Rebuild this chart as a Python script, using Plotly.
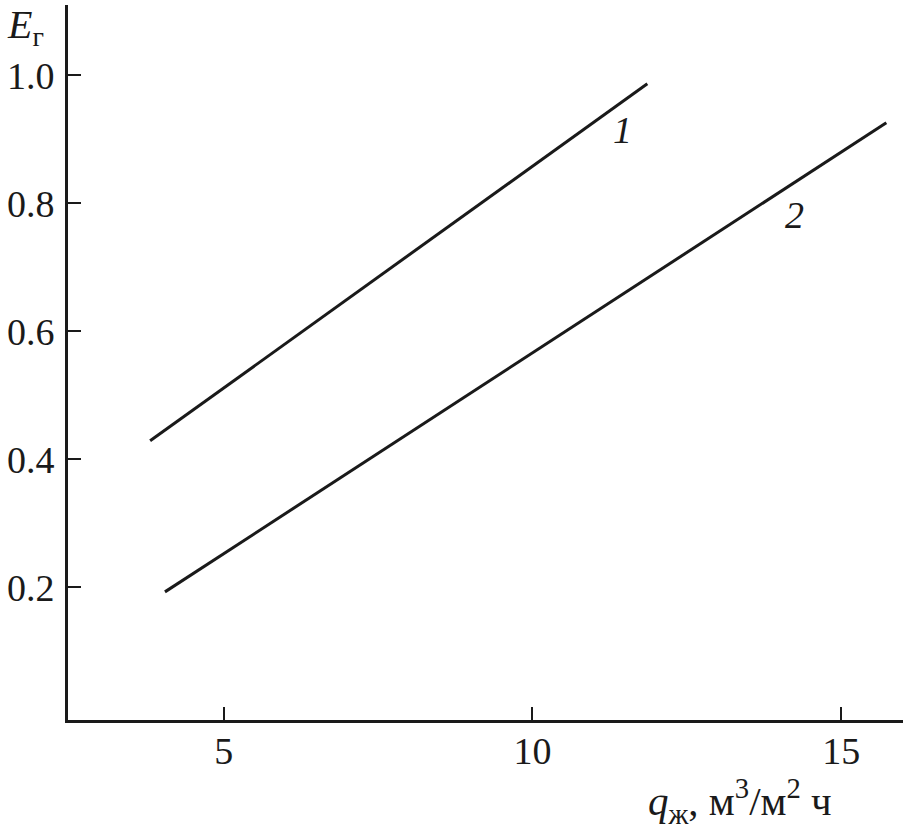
import plotly.graph_objects as go

# Data
series_names = ["1", "2"]
line1_x = [3.81, 11.86]
line1_y = [0.429, 0.987]
line2_x = [4.05, 15.73]
line2_y = [0.193, 0.926]
label_pos = {"1": (11.46, 0.915), "2": (14.24, 0.782)}

x_ticks = [5, 10, 15]
y_ticks = [0.2, 0.4, 0.6, 0.8, 1.0]
y_tick_text = ["0.2", "0.4", "0.6", "0.8", "1.0"]

FONT = "Liberation Serif"
fig = go.Figure()
for xs, ys, name in [(line1_x, line1_y, "1"), (line2_x, line2_y, "2")]:
    fig.add_trace(go.Scatter(x=xs, y=ys, mode="lines", name=name,
                             line=dict(color="#1a1a1a", width=3), showlegend=False))

for name in series_names:
    lx, ly = label_pos[name]
    fig.add_annotation(x=lx, y=ly, text=f"<i>{name}</i>", showarrow=False,
                       font=dict(family=FONT, size=38, color="#1a1a1a"))

fig.add_annotation(xref="paper", yref="paper", x=-0.0754, y=1.007, xanchor="left", yanchor="top",
                   text="<i>E</i><sub>г</sub>", showarrow=False,
                   font=dict(family=FONT, size=40, color="#1a1a1a"))
fig.add_annotation(xref="paper", yref="paper", x=0.805, y=-0.1127, xanchor="center", yanchor="middle",
                   text="<i>q</i><sub>ж</sub>, м<sup>3</sup>/м<sup>2</sup> ч", showarrow=False,
                   font=dict(family=FONT, size=41, color="#1a1a1a"))

fig.update_xaxes(range=[2.48, 16.0], tickvals=x_ticks, ticks="inside", ticklen=13, tickwidth=2,
                 tickcolor="#1a1a1a", showline=True, linecolor="#1a1a1a", linewidth=3,
                 showgrid=False, zeroline=False, automargin=False, ticklabelstandoff=-5,
                 tickfont=dict(family=FONT, size=38, color="#1a1a1a"))
fig.update_yaxes(range=[-0.0072, 1.110], tickvals=y_ticks, ticktext=y_tick_text, ticks="inside",
                 ticklen=13, tickwidth=2, tickcolor="#1a1a1a", showline=True, linecolor="#1a1a1a",
                 linewidth=3, showgrid=False, zeroline=False, automargin=False, ticklabelstandoff=3,
                 tickfont=dict(family=FONT, size=38, color="#1a1a1a"))

fig.update_layout(width=903, height=838, margin=dict(l=68, r=0, t=5, b=118),
                  plot_bgcolor="white", paper_bgcolor="white")
fig.write_html("out.html", config={"displayModeBar": False},
               post_script="document.body.style.margin='0';")
